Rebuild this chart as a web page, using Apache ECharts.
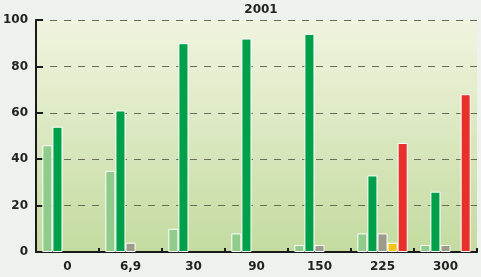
<!DOCTYPE html>
<html><head><meta charset="utf-8">
<script src="https://cdn.jsdelivr.net/npm/echarts@6/dist/echarts.min.js"></script>
<style>html,body{margin:0;padding:0;background:#edf3ec;}#c{width:481px;height:277px;}</style>
</head><body><div id="c"></div>
<script>
var title = '2001';
var categories = ['0', '6,9', '30', '90', '150', '225', '300'];
var seriesA = [46, 35, 10, 8, 3, 8, 3];      // light green
var seriesB = [54, 61, 90, 92, 94, 33, 26];  // dark green
var seriesC = [0, 4, 0, 0, 3, 8, 3];         // gray
var seriesD = [0, 0, 0, 0, 0, 4, 0];         // yellow
var seriesE = [0, 0, 0, 0, 0, 47, 68];       // red
var yTicks = [0, 20, 40, 60, 80, 100];

var colors = ['#8fcb8a', '#00a04a', '#9c9a88', '#f4c514', '#e8302b'];
var data = [seriesA, seriesB, seriesC, seriesD, seriesE];
var chart = echarts.init(document.getElementById('c'));
var font = 'DejaVu Sans';
chart.setOption({
  backgroundColor: '#edf3ec',
  animation: false,
  title: {text: title, left: 256, top: -1, textAlign: 'center',
    textStyle: {fontFamily: font, fontSize: 12, fontWeight: 'bold', color: '#222'}},
  grid: {left: 33, right: 4, top: 20, bottom: 25, show: true, borderWidth: 0,
    backgroundColor: new echarts.graphic.LinearGradient(0, 0, 0, 1, [
      {offset: 0, color: '#f1f4df'}, {offset: 1, color: '#c3dba0'}])},
  xAxis: {type: 'category', data: categories,
    axisLine: {lineStyle: {color: '#1a1a1a', width: 2}},
    axisTick: {show: true, inside: true, length: 4, lineStyle: {color: '#1a1a1a', width: 2}},
    axisLabel: {fontFamily: font, fontWeight: 'bold', fontSize: 12, color: '#222', margin: 9}},
  yAxis: {type: 'value', min: 0, max: 100, interval: 20,
    axisLine: {show: true, lineStyle: {color: '#1a1a1a', width: 2}},
    axisTick: {show: true, inside: true, length: 7, lineStyle: {color: '#1a1a1a', width: 2}},
    axisLabel: {fontFamily: font, fontWeight: 'bold', fontSize: 12, color: '#222', margin: 8,
      formatter: function(v){ return yTicks.indexOf(v) >= 0 ? String(v) : ''; }},
    splitLine: {show: true, lineStyle: {color: '#6a6a5a', type: [7, 7], width: 1}}},
  series: data.map(function(d, i){
    return {type: 'bar', data: d.map(function(v){ return v === 0 ? null : v; }),
      barGap: '0%', barCategoryGap: '20%',
      itemStyle: {color: colors[i], borderColor: '#ffffff', borderWidth: 1}};
  })
});
</script></body></html>
